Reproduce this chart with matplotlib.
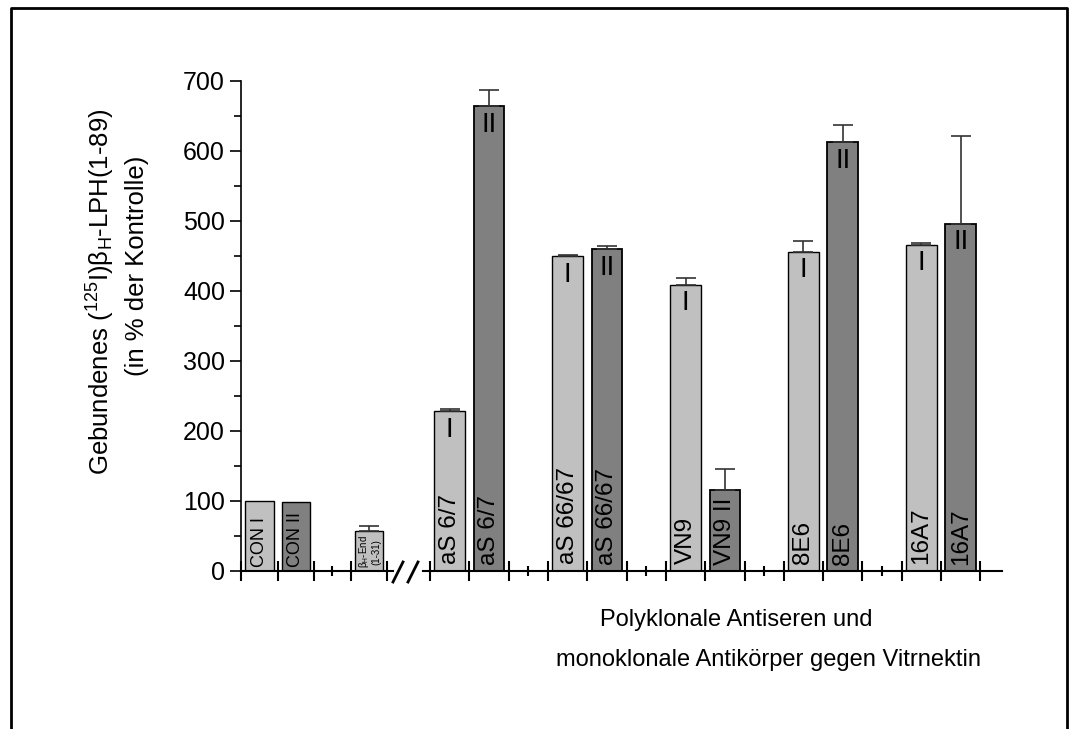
import numpy as np
import matplotlib
matplotlib.use('Agg')
import matplotlib.pyplot as plt
from matplotlib.lines import Line2D

plt.rcParams['font.family'] = ['Liberation Sans', 'DejaVu Sans']
plt.rcParams['mathtext.fontset'] = 'custom'
plt.rcParams['mathtext.rm'] = 'Liberation Sans'
plt.rcParams['mathtext.it'] = 'Liberation Sans:italic'

# Daten: linker Teil (Kontrollen), rechter Teil (Antiseren / Antikörper)
links_pos = [0.5, 1.5, 3.5]
links_werte = [100, 99, 57]
links_fehler = [0, 0, 8]
links_farben = ['#c0c0c0', '#808080', '#c0c0c0']

gruppen = ['aS 6/7', 'aS 66/67', 'VN9', '8E6', '16A7']
werte_I = [228, 450, 409, 456, 466]
fehler_I = [4, 1, 10, 16, 2]
werte_II = [664, 460, 116, 613, 496]
fehler_II = [23, 5, 30, 24, 126]

hell = '#c0c0c0'
dunkel = '#808080'
breite = 0.78

fig = plt.figure(figsize=(10.69, 7.29), dpi=100)
W, H = 1069, 729

def px(x0, y0, x1, y1):
    # Pixelkasten -> Figurenkoordinaten
    return [x0 / W, 1 - y1 / H, (x1 - x0) / W, (y1 - y0) / H]

ax1 = fig.add_axes(px(241, 81, 393, 571))
ax2 = fig.add_axes(px(423, 81, 1002, 571), sharey=ax1)

err_kw = dict(ecolor='#333333', capsize=7, elinewidth=1.2, capthick=1.2)

# linker Teil
for x, v, e, c in zip(links_pos, links_werte, links_fehler, links_farben):
    ax1.bar(x, v, width=breite, color=c, edgecolor='black', linewidth=1,
            yerr=[[0], [e]] if e else None, error_kw=err_kw, zorder=2)
ax1.text(0.5, 6, 'CON I', rotation=90, ha='center', va='bottom', fontsize=13)
ax1.text(1.5, 6, 'CON II', rotation=90, ha='center', va='bottom', fontsize=13)
ax1.text(3.5, 4, 'β$_{\\rm H}$-End\n(1-31)', rotation=90, ha='center', va='bottom',
         fontsize=7, linespacing=1.0)

# rechter Teil
xI = np.arange(len(gruppen)) * 3 + 0.5
xII = xI + 1
ax2.bar(xI, werte_I, width=breite, color=hell, edgecolor='black', linewidth=1,
        yerr=[np.zeros(len(gruppen)), fehler_I], error_kw=err_kw, zorder=2)
ax2.bar(xII, werte_II, width=breite, color=dunkel, edgecolor='black', linewidth=1.3,
        yerr=[np.zeros(len(gruppen)), fehler_II], error_kw=err_kw, zorder=2)

for i, g in enumerate(gruppen):
    ax2.text(xI[i], 10, g, rotation=90, ha='center', va='bottom', fontsize=17.5)
    ax2.text(xI[i], werte_I[i] - 8, 'I', ha='center', va='top', fontsize=20)
    if werte_II[i] > 200:
        ax2.text(xII[i], 8, g, rotation=90, ha='center', va='bottom', fontsize=17.5)
        ax2.text(xII[i], werte_II[i] - 8, 'II', ha='center', va='top', fontsize=20)
    else:
        ax2.text(xII[i], 8, g + ' II', rotation=90, ha='center', va='bottom', fontsize=17.5)

# Achsen
ax1.set_ylim(0, 700)
ax1.set_yticks(np.arange(0, 701, 100))
ax1.set_yticks(np.arange(50, 700, 100), minor=True)
ax1.tick_params(axis='y', which='major', direction='out', length=8, width=1.2, labelsize=18)
ax1.tick_params(axis='y', which='minor', direction='out', length=5, width=1.2)

ax1.set_xlim(0, 4.16)
ax1.set_xticks([0, 1, 2, 3, 4])
ax1.set_xticks([2.5], minor=True)
ax2.set_xlim(-0.18, 14.55)
ax2.set_xticks(np.arange(0, 15))
ax2.set_xticks([2.5, 5.5, 8.5, 11.5], minor=True)
for ax in (ax1, ax2):
    ax.tick_params(axis='x', which='major', direction='inout', length=14, width=1.5,
                   labelbottom=False)
    ax.tick_params(axis='x', which='minor', direction='inout', length=7, width=1.5)
    ax.spines['top'].set_visible(False)
    ax.spines['right'].set_visible(False)
    ax.spines['bottom'].set_linewidth(1.5)
    ax.spines['left'].set_linewidth(1.2)
ax2.spines['left'].set_visible(False)
ax2.tick_params(axis='y', which='both', left=False, labelleft=False)

# Achsenbruch
for dx in (0, 15):
    fig.add_artist(Line2D([(393 + dx) / W, (403 + dx) / W], [1 - 582 / H, 1 - 562 / H],
                          color='black', lw=2))

# Beschriftungen
fig.text(101 / W, 1 - 292 / H, 'Gebundenes ($^{125}$I)β$_{\\rm H}$-LPH(1-89)',
         rotation=90, ha='center', va='center', fontsize=18.5)
fig.text(137 / W, 1 - 266 / H, '(in % der Kontrolle)',
         rotation=90, ha='center', va='center', fontsize=18.5)
fig.text(736 / W, 1 - 620 / H, 'Polyklonale Antiseren und',
         ha='center', va='center', fontsize=17)
fig.text(768 / W, 1 - 660 / H, 'monoklonale Antikörper gegen Vitrnektin',
         ha='center', va='center', fontsize=17)

# Rahmen
fig.add_artist(Line2D([11 / W, 11 / W, 1067 / W, 1067 / W], [0, 1 - 8 / H, 1 - 8 / H, 0],
                      color='black', lw=2))

fig.savefig('out.png', dpi=100)
